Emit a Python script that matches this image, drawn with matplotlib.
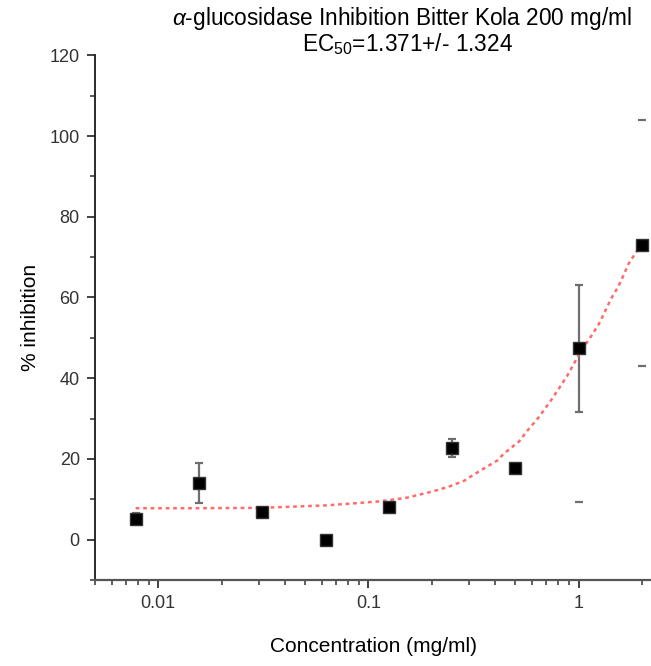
import matplotlib
matplotlib.use("Agg")
import matplotlib.pyplot as plt
import numpy as np
from matplotlib.ticker import FixedLocator, MultipleLocator, LogLocator, NullFormatter

plt.rcParams['font.family'] = ['Liberation Sans', 'DejaVu Sans']
plt.rcParams['mathtext.fontset'] = 'custom'
plt.rcParams['mathtext.rm'] = 'Liberation Sans'
plt.rcParams['mathtext.it'] = 'Liberation Sans:italic'

# measured points (concentration in mg/ml, % inhibition)
conc = [0.0078, 0.0156, 0.03125, 0.0625, 0.125, 0.25, 0.5, 1.0, 2.0]
inhib = [5.2, 14.0, 6.9, 0.0, 8.2, 22.8, 17.8, 47.4, 73.0]
err = [1.3, 5.0, 0.0, 0.0, 0.5, 2.2, 0.0, 15.8, 0.0]

# stray caps with no bar line (x, y, lower, upper)
cap_x = [1.0, 2.0]
cap_y = [47.4, 73.0]
cap_lo = [38.0, 30.0]
cap_hi = [0.0, 31.0]

# fitted curve
fit_x = [0.0078, 0.0156, 0.031, 0.044, 0.0625, 0.085, 0.113, 0.152, 0.2, 0.24,
         0.285, 0.34, 0.41, 0.44, 0.52, 0.57, 0.65, 0.75, 0.88, 0.95, 1.02,
         1.15, 1.25, 1.32, 1.42, 1.54, 1.62, 1.73, 1.91, 2.0]
fit_y = [7.8, 7.8, 7.9, 8.2, 8.5, 9.0, 9.5, 10.4, 11.9, 13.1,
         14.6, 17.1, 19.6, 21.3, 24.3, 27.0, 30.5, 35.0, 40.5, 43.6, 46.5,
         50.5, 53.5, 56.0, 59.5, 62.6, 65.0, 68.4, 71.8, 73.5]

fig = plt.figure(figsize=(6.51, 6.66), dpi=100)
ax = fig.add_axes([0.146, 0.129, 0.854, 0.788])

ax.plot(fit_x, fit_y, color='#ff6b6b', lw=1.8, ls=(0, (1.5, 1.5)), zorder=3)
ax.errorbar(conc, inhib, yerr=err, fmt='none', ecolor='#6e6e6e', elinewidth=1.6,
            capsize=3, capthick=1.6, zorder=2)
ax.errorbar(cap_x, cap_y, yerr=[cap_lo, cap_hi], fmt='none', ecolor='#6e6e6e',
            elinewidth=0, capsize=3, capthick=1.6, zorder=2)
ax.plot(conc, inhib, 's', color='black', mec='#333333', ms=8.5, zorder=4)

ax.set_xscale('log')
ax.set_xlim(0.005, 2.21)
ax.set_ylim(-10, 120)
ax.xaxis.set_major_locator(FixedLocator([0.01, 0.1, 1]))
ax.set_xticklabels(['0.01', '0.1', '1'])
ax.xaxis.set_minor_locator(LogLocator(base=10, subs=np.arange(2, 10)))
ax.xaxis.set_minor_formatter(NullFormatter())
ax.yaxis.set_major_locator(MultipleLocator(20))
ax.yaxis.set_minor_locator(MultipleLocator(10))

for s in ['top', 'right']:
    ax.spines[s].set_visible(False)
ax.spines['left'].set_linewidth(1.3)
ax.spines['left'].set_color('#1a1a1a')
ax.spines['bottom'].set_linewidth(1.6)
ax.spines['bottom'].set_color('#555555')

ax.tick_params(which='major', length=6, width=1.3, color='#333333',
               labelsize=13, labelcolor='#333333', pad=5)
ax.tick_params(which='minor', length=3.5, width=1.1, color='#333333')

ax.set_xlabel('Concentration (mg/ml)', fontsize=15, labelpad=18)
ax.set_ylabel('% inhibition', fontsize=15, labelpad=7)

fig.text(0.618, 0.972, r'$\it{\alpha}$-glucosidase Inhibition Bitter Kola 200 mg/ml',
         ha='center', va='center', fontsize=16.3)
fig.text(0.626, 0.934, r'EC$_{50}$=1.371+/- 1.324', ha='center', va='center',
         fontsize=16.3)

fig.savefig('out.png', dpi=100)
